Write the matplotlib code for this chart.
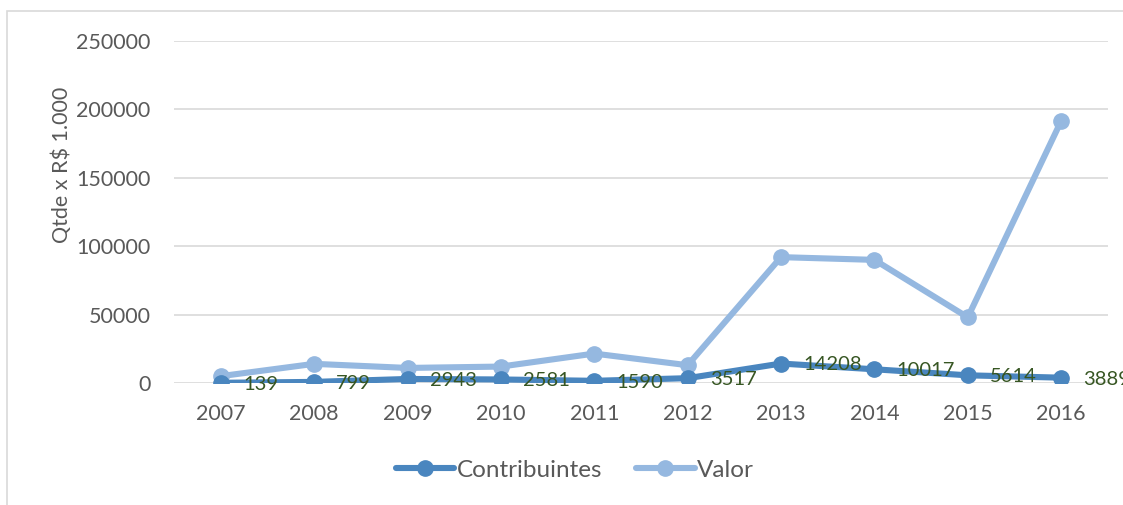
import matplotlib.pyplot as plt
from matplotlib.patches import Rectangle

anos = ['2007', '2008', '2009', '2010', '2011', '2012', '2013', '2014', '2015', '2016']
contribuintes = [139, 799, 2943, 2581, 1590, 3517, 14208, 10017, 5614, 3889]
valor = [5000, 14000, 11000, 12000, 21500, 13000, 92000, 90000, 48000, 191500]

cor_contrib = '#4A86BF'
cor_valor = '#95B8E0'
cor_texto = '#595959'
cor_rotulo = '#375623'

plt.rcParams['font.family'] = ['Lato', 'DejaVu Sans']

fig = plt.figure(figsize=(11.23, 5.05), dpi=100)
ax = fig.add_axes([0.155, 0.2416, 0.8315, 0.6772])

# moldura do grafico (como no Excel)
fig.patches.append(Rectangle((7 / 1123, -0.1), 1.2, 1 - 11 / 505 + 0.1,
                             transform=fig.transFigure, fill=False,
                             edgecolor='#D9D9D9', linewidth=1.2))

x = range(len(anos))
ax.plot(x, valor, color=cor_valor, linewidth=4.4, marker='o', markersize=11,
        solid_capstyle='round', label='Valor', zorder=3)
ax.plot(x, contribuintes, color=cor_contrib, linewidth=4.4, marker='o', markersize=11,
        solid_capstyle='round', label='Contribuintes', zorder=4)

for xi, v in zip(x, contribuintes):
    ax.annotate(str(v), (xi, v), xytext=(16, -1), textcoords='offset points',
                ha='left', va='center', color=cor_rotulo, fontsize=14.5, zorder=5,
                annotation_clip=False)

ax.set_xlim(-0.5, len(anos) - 0.5)
ax.set_ylim(0, 250000)
ax.set_yticks(range(0, 250001, 50000))
ax.set_xticks(list(x))
ax.set_xticklabels(anos)
ax.grid(axis='y', color='#D9D9D9', linewidth=1.2)
ax.set_axisbelow(True)
for s in ax.spines.values():
    s.set_visible(False)
ax.tick_params(length=0, labelsize=15.5, colors=cor_texto)
ax.tick_params(axis='x', pad=15)
ax.tick_params(axis='y', pad=17)

fig.text(62 / 1123, 1 - 165 / 505, 'Qtde x R$ 1.000', rotation=90, ha='center',
         va='center', fontsize=15.5, color=cor_texto)

h, l = ax.get_legend_handles_labels()
fig.legend(h[::-1], l[::-1], loc='center', bbox_to_anchor=(0.512, 0.069), ncol=2,
           frameon=False, fontsize=17.5, labelcolor=cor_texto, handlelength=2.4,
           handletextpad=0.1, columnspacing=1.4)

fig.savefig('out.png', dpi=100)
